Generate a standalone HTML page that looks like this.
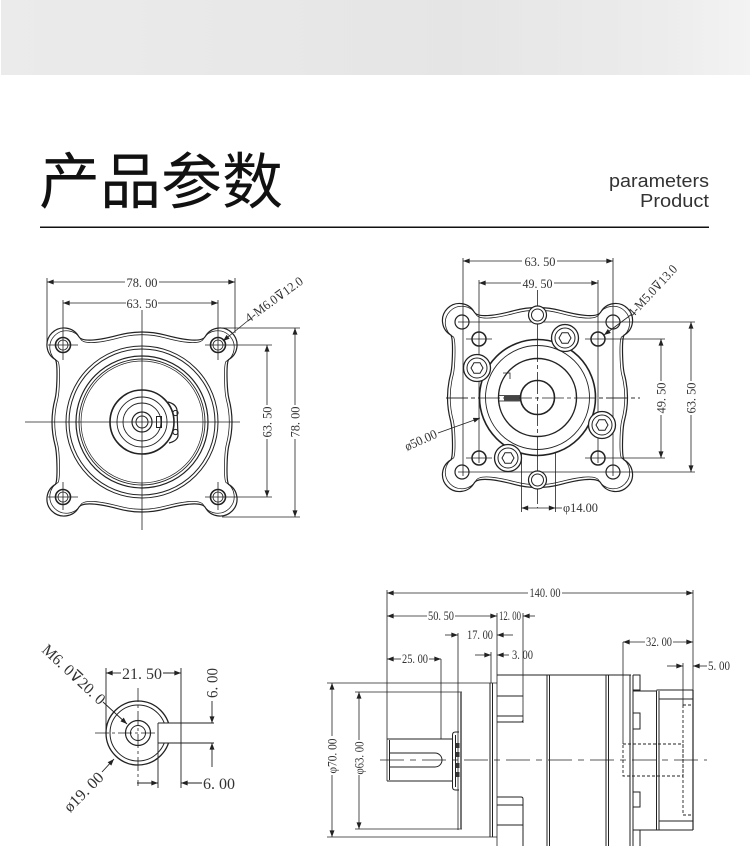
<!DOCTYPE html>
<html><head><meta charset="utf-8">
<style>
html,body{margin:0;padding:0;background:#fff;}
body{width:750px;height:846px;position:relative;overflow:hidden;}
.band{position:absolute;left:1px;top:0;width:749px;height:75px;background:linear-gradient(90deg,#ebebeb 0%,#e8e8e8 35%,#e5e5e5 60%,#ececec 88%,#f3f3f3 100%);}
svg{position:absolute;left:0;top:0;}
.d{font-family:"Liberation Serif","DejaVu Serif",serif;font-size:13px;fill:#333;}
.d2{font-family:"Liberation Serif","DejaVu Serif",serif;font-size:16px;fill:#333;}
</style></head><body>
<div class="band"></div>
<svg width="750" height="846" viewBox="0 0 750 846">
<defs>
<marker id="a" viewBox="0 0 8 6" refX="8" refY="3" markerWidth="7" markerHeight="5" markerUnits="userSpaceOnUse" orient="auto"><path d="M0,0 L8,3 L0,6z" fill="#222"/></marker>
<path id="q" d="M0,-90 A90,90 0 0 1 23.3,-86.9 C37.8,-83 59.3,-78.6 63.3,-85.5 A17,17 0 1 1 86.5,-62.3 C84,-57.5 85,-31 86.9,-23.3 A90,90 0 0 1 90,0"/>
<g id="fl">
<use href="#q"/><use href="#q" transform="scale(-1,1)"/><use href="#q" transform="scale(1,-1)"/><use href="#q" transform="scale(-1,-1)"/>
</g>
</defs>

<!-- Header -->
<text x="39" y="203" font-family="'Liberation Sans','Noto Sans CJK SC',sans-serif" font-size="61" fill="#111">产品参数</text>
<text x="709" y="187" text-anchor="end" font-family="'Liberation Sans',sans-serif" font-size="18" fill="#333" textLength="100" lengthAdjust="spacingAndGlyphs">parameters</text>
<text x="709" y="207" text-anchor="end" font-family="'Liberation Sans',sans-serif" font-size="18" fill="#333" textLength="69" lengthAdjust="spacingAndGlyphs">Product</text>
<rect x="40" y="226.5" width="669" height="1.5" fill="#111"/>

<!-- ============ Drawing 1 ============ -->
<g stroke="#222" fill="none">
<g transform="translate(142,422)" stroke-width="1.2"><use href="#fl"/></g>
<g transform="translate(142,422) scale(0.97)" stroke-width="0.8"><use href="#fl"/></g>
<circle cx="142" cy="422" r="76" stroke-width="1"/>
<circle cx="142" cy="422" r="73" stroke-width="1"/>
<circle cx="142" cy="422" r="66" stroke-width="1.2"/>
<circle cx="142" cy="422" r="63" stroke-width="0.9"/>
<circle cx="142" cy="422" r="61" stroke-width="0.7"/>
<circle cx="142" cy="422" r="32" stroke-width="1.6"/>
<circle cx="142" cy="422" r="25" stroke-width="0.9"/>
<circle cx="142" cy="422" r="19" stroke-width="0.9"/>
<circle cx="142" cy="422" r="10" stroke-width="1.2"/>
<circle cx="142" cy="422" r="6" stroke-width="1"/>
<path d="M168,402 Q176,404 177,410 L178,436 Q177,441 169,443" stroke-width="1.2"/>
<circle cx="175.5" cy="413" r="2.6" stroke-width="1"/>
<circle cx="175.5" cy="432" r="2.6" stroke-width="1"/>
<rect x="156.5" y="416.5" width="5" height="11" stroke-width="1"/>
<g stroke-width="1.6">
<circle cx="63" cy="345" r="7.5"/><circle cx="218" cy="345" r="7.5"/><circle cx="63" cy="497" r="7.5"/><circle cx="218" cy="497" r="7.5"/>
</g>
<g stroke-width="0.8">
<circle cx="63" cy="345" r="5"/><circle cx="218" cy="345" r="5"/><circle cx="63" cy="497" r="5"/><circle cx="218" cy="497" r="5"/>
<path d="M142,310V530 M25,422H240 M48,345H78 M48,497H78 M205,345H272 M205,497H272 M63,300V360 M218,300V360 M63,482V510 M218,482V510 M222,328H300 M222,517H300 M47,278V345 M235,278V333"/>
</g>
<g stroke-width="0.8" marker-end="url(#a)">
<path d="M125,282H47"/><path d="M159,282H235"/>
<path d="M126,303H63"/><path d="M158,303H218"/>
<path d="M267,405V345"/><path d="M267,439V497"/>
<path d="M295,405V328"/><path d="M295,439V517"/>
<path d="M250,319L223,341"/>
</g>
</g>
<text class="d" x="142" y="287" text-anchor="middle" textLength="31" lengthAdjust="spacingAndGlyphs">78. 00</text>
<text class="d" x="142" y="308" text-anchor="middle" textLength="31" lengthAdjust="spacingAndGlyphs">63. 50</text>
<text class="d" transform="translate(267,422) rotate(-90)" x="0" y="4.5" text-anchor="middle" textLength="31" lengthAdjust="spacingAndGlyphs">63. 50</text>
<text class="d" transform="translate(295,422) rotate(-90)" x="0" y="4.5" text-anchor="middle" textLength="31" lengthAdjust="spacingAndGlyphs">78. 00</text>
<text class="d" transform="translate(249,323) rotate(-36)" x="0" y="0" textLength="68" lengthAdjust="spacingAndGlyphs">4-M6.0⊽12.0</text>

<!-- ============ Drawing 2 ============ -->
<g stroke="#222" fill="none">
<g transform="translate(537.5,397.5)" stroke-width="1.2"><use href="#fl"/></g>
<g transform="translate(537.5,397.5) scale(0.97)" stroke-width="0.8"><use href="#fl"/></g>
<g stroke-width="0.8">
<path d="M463,258V476 M613,258V476 M479,280V463 M598,280V463 M458,322H695 M458,472H695 M466,339H492 M585,339H665 M466,458H492 M585,458H665 M521.5,400V512 M555.5,400V512"/>
<path d="M446,398H640" stroke-dasharray="22 3 4 3"/>
<path d="M537.5,290V508" stroke-dasharray="22 3 4 3"/>
</g>
<circle cx="537.5" cy="315" r="9" stroke-width="1.2" fill="#fff"/>
<circle cx="537.5" cy="315" r="6" stroke-width="1"/>
<circle cx="537.5" cy="480" r="9" stroke-width="1.2" fill="#fff"/>
<circle cx="537.5" cy="480" r="6" stroke-width="1"/>
<g stroke-width="1.2">
<circle cx="462" cy="322" r="7"/><circle cx="613" cy="322" r="7"/><circle cx="462" cy="472" r="7"/><circle cx="613" cy="472" r="7"/>
</g>
<g stroke-width="1.5">
<circle cx="479" cy="339" r="7"/><circle cx="598" cy="339" r="7"/><circle cx="479" cy="458" r="7"/><circle cx="598" cy="458" r="7"/>
</g>
<circle cx="537.5" cy="397.5" r="58" stroke-width="1.6" fill="#fff"/>
<circle cx="537.5" cy="397.5" r="52" stroke-width="0.9"/>
<circle cx="537.5" cy="397.5" r="39" stroke-width="1.4"/>
<circle cx="537.5" cy="397.5" r="17" stroke-width="1.6"/>
<path d="M446,398H640" stroke-width="0.8" stroke-dasharray="22 3 4 3"/>
<path d="M537.5,340V455" stroke-width="0.8" stroke-dasharray="22 3 4 3"/>
<g stroke-width="1.3" fill="#fff">
<circle cx="565" cy="338" r="13.5"/><circle cx="477" cy="368" r="13.5"/><circle cx="602" cy="425" r="13.5"/><circle cx="508" cy="458" r="13.5"/>
</g>
<g stroke-width="1">
<circle cx="565" cy="338" r="10"/><circle cx="477" cy="368" r="10"/><circle cx="602" cy="425" r="10"/><circle cx="508" cy="458" r="10"/>
<polygon points="571,338 568,343.2 562,343.2 559,338 562,332.8 568,332.8"/>
<polygon points="483,368 480,373.2 474,373.2 471,368 474,362.8 480,362.8"/>
<polygon points="608,425 605,430.2 599,430.2 596,425 599,419.8 605,419.8"/>
<polygon points="514,458 511,463.2 505,463.2 502,458 505,452.8 511,452.8"/>
<path d="M503,373H510V379" stroke-width="0.8"/>
</g>
<rect x="498.5" y="395.5" width="21" height="5.5" stroke-width="0.8"/>
<rect x="504" y="396" width="15" height="4.5" fill="#444" stroke="none"/>
<g stroke-width="0.8" marker-end="url(#a)">
<path d="M522,261H463"/><path d="M557,261H613"/>
<path d="M521,283H479"/><path d="M554,283H598"/>
<path d="M661,381V339"/><path d="M661,415V458"/>
<path d="M691,381V322"/><path d="M691,415V472"/>
<path d="M632,314L604,335"/>
<path d="M438,433L480,418"/>
<path d="M538,508H521.5"/><path d="M538,508H555.5"/>
</g>
<path d="M555.5,508H562" stroke-width="0.8"/>
</g>
<text class="d" x="540" y="266" text-anchor="middle" textLength="31" lengthAdjust="spacingAndGlyphs">63. 50</text>
<text class="d" x="537.5" y="288" text-anchor="middle" textLength="30" lengthAdjust="spacingAndGlyphs">49. 50</text>
<text class="d" transform="translate(661,398) rotate(-90)" x="0" y="4.5" text-anchor="middle" textLength="31" lengthAdjust="spacingAndGlyphs">49. 50</text>
<text class="d" transform="translate(691,398) rotate(-90)" x="0" y="4.5" text-anchor="middle" textLength="31" lengthAdjust="spacingAndGlyphs">63. 50</text>
<text class="d" transform="translate(633,318) rotate(-47)" x="0" y="0" textLength="66" lengthAdjust="spacingAndGlyphs">4-M5.0⊽13.0</text>
<text class="d" transform="translate(407,451) rotate(-24)" x="0" y="0" textLength="34" lengthAdjust="spacingAndGlyphs">ø50.00</text>
<text class="d" x="563" y="512" textLength="35" lengthAdjust="spacingAndGlyphs">φ14.00</text>

<!-- ============ Drawing 3 ============ -->
<g stroke="#222" fill="none">
<circle cx="138" cy="733" r="32" stroke-width="1.3"/>
<circle cx="138" cy="733" r="28" stroke-width="1"/>
<rect x="158.5" y="723.5" width="22" height="19" fill="#fff" stroke="none"/>
<circle cx="138" cy="733" r="12.5" stroke-width="1.2"/>
<circle cx="138" cy="733" r="7.5" stroke-width="1"/>
<g stroke-width="0.9">
<path d="M158,723H214 M158,743H214 M158,723V788 M181,668V788 M106,668V733"/>
</g>
<g stroke-width="0.8" stroke-dasharray="14 3 3 3">
<path d="M95,733H156"/><path d="M138,688V786"/>
</g>
<g stroke-width="0.9" marker-end="url(#a)">
<path d="M121,673H106"/><path d="M163,673H181"/>
<path d="M212,701V723"/><path d="M212,767V743"/>
<path d="M137,783H158"/><path d="M202,783H181"/>
<path d="M103,702L127,724"/>
<path d="M102,772L114,759"/>
</g>
</g>
<text class="d2" x="142" y="679" text-anchor="middle" textLength="40" lengthAdjust="spacingAndGlyphs">21. 50</text>
<text class="d2" transform="translate(212,683) rotate(-90)" x="0" y="5.5" text-anchor="middle" textLength="30" lengthAdjust="spacingAndGlyphs">6. 00</text>
<text class="d2" x="203" y="789" textLength="32" lengthAdjust="spacingAndGlyphs">6. 00</text>
<text class="d2" transform="translate(41,651) rotate(43)" x="0" y="0" font-size="15" textLength="80" lengthAdjust="spacingAndGlyphs">M6. 0⊽20. 0</text>
<text class="d2" transform="translate(70,813) rotate(-45)" x="0" y="0" font-size="15" textLength="49" lengthAdjust="spacingAndGlyphs">ø19. 00</text>

<!-- ============ Drawing 4 ============ -->
<g stroke="#222" fill="none">
<g stroke-width="0.8">
<path d="M387,590V781 M693,590V830 M497,613V846 M523,613V723 M458,633V830 M491,652V683 M441,659V739 M623,642V744 M683,663V705"/>
<path d="M327,683H497 M327,837H497 M355,692H462 M355,829H462"/>
</g>
<g stroke-width="1">
<path d="M387,739H452 M387,781H452 M389.5,740V780"/>
<path d="M389.5,753H435 A7,7 0 0 1 435,767 H389.5"/>
<path d="M459,732H455.5 Q452.5,732 452.5,735 V787 Q452.5,790 455.5,790 H459"/>
<path d="M455.5,735V787"/>
</g>
<g fill="#333" stroke="none">
<rect x="455.5" y="743" width="4" height="5"/><rect x="455.5" y="752" width="4" height="5"/>
<rect x="455.5" y="763" width="4" height="5"/><rect x="455.5" y="772" width="4" height="5"/>
</g>
<path d="M461,692V829" stroke-width="1.6" stroke="#555"/>
<path d="M490,683V837 M492.5,683V837" stroke-width="1"/>
<g stroke-width="1">
<path d="M497,675H631"/>
<path d="M497,696H523 M497,716H523 M497,722H521 Q523,722 523,720"/>
<path d="M497,797H521 Q523,797 523,799 V846 M497,805H523 M497,825H523"/>
<path d="M547,675V846 M549.5,675V846 M606,675V846 M608.5,675V846 M630,675V846 M633,675V846"/>
<path d="M633,675H640V690H633 M633,713H640V729H633 M633,792H640V807H633 M633,830H640V846"/>
<path d="M633,691H657 M656.5,691V830 M659,691V830 M633,830H693"/>
<path d="M656.5,690H693 M659,699H693 M659,821H693"/>
<path d="M693,690V830" stroke-width="1.2"/>
</g>
<g stroke-width="0.9" stroke-dasharray="3 2">
<rect x="623" y="744" width="60" height="32"/>
<path d="M683,705V815 M683,705H693 M683,815H693"/>
</g>
<path d="M380,760H707" stroke-width="0.8" stroke-dasharray="24 6 6 6"/>
<g stroke-width="0.8" marker-end="url(#a)">
<path d="M528,593H387"/><path d="M562,593H693"/>
<path d="M427,616H387"/><path d="M455,616H497"/>
<path d="M535,616H523"/>
<path d="M445,635H458"/><path d="M513,635H497"/>
<path d="M475,655H491"/><path d="M509,655H497"/>
<path d="M401,659H387"/><path d="M429,659H441"/>
<path d="M332,736V683"/><path d="M332,775V837"/>
<path d="M359,740V692"/><path d="M359,775V829"/>
<path d="M645,642H623"/><path d="M673,642H693"/>
<path d="M667,666H683"/><path d="M707,666H693"/>
</g>
</g>
<text class="d" x="545" y="597" text-anchor="middle" textLength="31" lengthAdjust="spacingAndGlyphs">140. 00</text>
<text class="d" x="441" y="620" text-anchor="middle" textLength="26" lengthAdjust="spacingAndGlyphs">50. 50</text>
<text class="d" x="510" y="620" text-anchor="middle" textLength="22" lengthAdjust="spacingAndGlyphs">12. 00</text>
<text class="d" x="480" y="639" text-anchor="middle" textLength="26" lengthAdjust="spacingAndGlyphs">17. 00</text>
<text class="d" x="512" y="659" textLength="21" lengthAdjust="spacingAndGlyphs">3. 00</text>
<text class="d" x="415" y="663" text-anchor="middle" textLength="26" lengthAdjust="spacingAndGlyphs">25. 00</text>
<text class="d" transform="translate(332,756) rotate(-90)" x="0" y="4.5" text-anchor="middle" textLength="35" lengthAdjust="spacingAndGlyphs">φ70. 00</text>
<text class="d" transform="translate(359,758) rotate(-90)" x="0" y="4.5" text-anchor="middle" textLength="33" lengthAdjust="spacingAndGlyphs">φ63. 00</text>
<text class="d" x="659" y="646" text-anchor="middle" textLength="26" lengthAdjust="spacingAndGlyphs">32. 00</text>
<text class="d" x="708" y="670" textLength="22" lengthAdjust="spacingAndGlyphs">5. 00</text>
</svg>
</body></html>
